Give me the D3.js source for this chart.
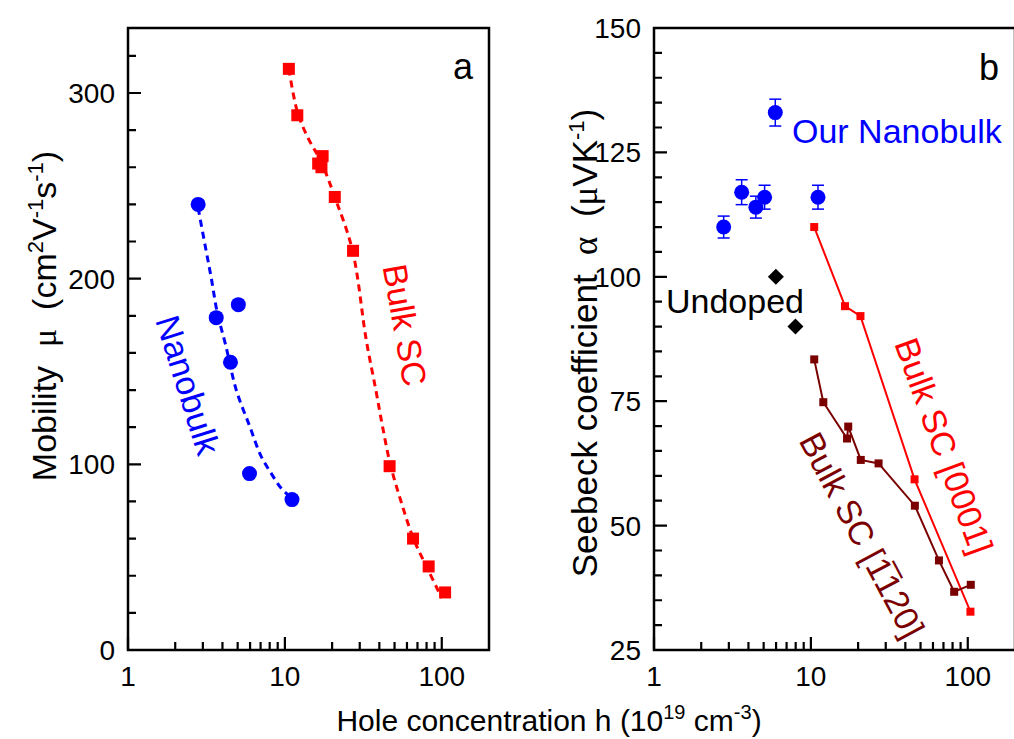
<!DOCTYPE html>
<html>
<head>
<meta charset="utf-8">
<script src="https://cdn.jsdelivr.net/npm/d3@7"></script>
<style>
  body { margin: 0; background: #fff; }
  text { font-family: "Liberation Sans", Arial, sans-serif; }
</style>
</head>
<body>
<div id="plot"></div>
<script>
// ---- panel a data: mobility vs hole concentration ----
var nanoH  = [2.8, 3.65, 5.05, 4.5, 5.95, 11.1];
var nanoMu = [240, 179, 186, 155, 95, 81];
var nanoFitH  = [2.8, 3.1, 3.4, 3.7, 4.2, 4.9, 6.0, 7.0, 8.2, 9.5, 11.0];
var nanoFitMu = [238, 218, 200, 182, 164, 140, 120, 105, 95, 87, 82];

var bulkH  = [10.6, 12.0, 17.4, 16.3, 17.1, 20.8, 27.2, 46.5, 65.6, 82.5, 105];
var bulkMu = [313, 288, 266, 262, 260, 244, 215, 99, 60, 45, 31];
var bulkFitH  = [10.6, 12, 14, 17, 21, 27, 33, 38, 42, 47, 55, 66, 82, 100];
var bulkFitMu = [313, 290, 276, 263, 243, 215, 167, 140, 120, 100, 80, 60, 43, 28];

// ---- panel b data: Seebeck coefficient vs hole concentration ----
var ourH     = [2.78, 3.62, 4.46, 5.07, 5.93, 11.1];
var ourS     = [110, 117, 114, 116, 133, 116];
var ourErr   = [2.2, 2.5, 2.2, 2.4, 2.7, 2.4];

var undopedH = [5.98, 7.97];
var undopedS = [100, 90];

var sc0001H = [10.5, 16.5, 20.7, 45.8, 104];
var sc0001S = [110, 94.1, 92.1, 59.3, 32.7];

var sc1120H = [10.5, 12.0, 17.0, 17.3, 20.8, 27.0, 46.0, 65.5, 81.9, 104.5];
var sc1120S = [83.4, 74.8, 67.5, 69.9, 63.2, 62.5, 54.0, 43.0, 36.7, 38.1];

// ---- axis ticks ----
var xMajor = [1, 10, 100];
var xMinor = [2, 3, 4, 5, 6, 7, 8, 9, 20, 30, 40, 50, 60, 70, 80, 90];
var yMajorA = [0, 100, 200, 300];
var yMinorA = [20, 40, 60, 80, 120, 140, 160, 180, 220, 240, 260, 280, 320];
var yMajorB = [25, 50, 75, 100, 125, 150];
var yMinorB = [30, 35, 40, 45, 55, 60, 65, 70, 80, 85, 90, 95, 105, 110, 115, 120, 130, 135, 140, 145];

var W = 1014, H = 739;
var BLUE = "#0000ff", RED = "#ff0000", DRED = "#7a0000";
var SP = "\u00a0";

var svg = d3.select("#plot")
  .append("svg")
    .attr("width", W)
    .attr("height", H);

svg.append("rect").attr("width", W).attr("height", H).attr("fill", "#fff");

var plotTop = 28, plotBottom = 650;

var xA = d3.scaleLog().domain([1, 200]).range([128, 489]);
var yA = d3.scaleLinear().domain([0, 335]).range([plotBottom, plotTop]);
var xB = d3.scaleLog().domain([1, 200]).range([654, 1015]);
var yB = d3.scaleLinear().domain([25, 150]).range([plotBottom, plotTop]);

function drawAxes(x, y, yMajor, yMinor) {
  var x0 = x.range()[0], x1 = x.range()[1];
  var g = svg.append("g");

  // frame
  g.append("rect")
    .attr("x", x0).attr("y", plotTop)
    .attr("width", x1 - x0).attr("height", plotBottom - plotTop)
    .attr("fill", "none").attr("stroke", "#000").attr("stroke-width", 2.5);

  // inward ticks on bottom and left, one path for all of them
  var p = d3.path();
  xMajor.forEach(function(v) { p.moveTo(x(v), plotBottom); p.lineTo(x(v), plotBottom - 13); });
  xMinor.forEach(function(v) { p.moveTo(x(v), plotBottom); p.lineTo(x(v), plotBottom - 8); });
  yMajor.forEach(function(v) { p.moveTo(x0, y(v)); p.lineTo(x0 + 13, y(v)); });
  yMinor.forEach(function(v) { p.moveTo(x0, y(v)); p.lineTo(x0 + 8, y(v)); });
  g.append("path")
    .attr("d", p.toString())
    .attr("fill", "none")
    .attr("stroke", "#000")
    .attr("stroke-width", 2.2);

  // tick labels
  g.selectAll(null).data(xMajor).enter().append("text")
    .attr("x", function(d) { return x(d); })
    .attr("y", plotBottom + 36)
    .attr("text-anchor", "middle")
    .attr("font-size", "28px")
    .text(function(d) { return d; });
  g.selectAll(null).data(yMajor).enter().append("text")
    .attr("x", x0 - 13)
    .attr("y", function(d) { return y(d); })
    .attr("dy", "0.36em")
    .attr("text-anchor", "end")
    .attr("font-size", "28px")
    .text(function(d) { return d; });
}

drawAxes(xA, yA, yMajorA, yMinorA);
drawAxes(xB, yB, yMajorB, yMinorB);

// ---------- panel a ----------
var lineA = d3.line().curve(d3.curveCatmullRom)
  .x(function(d) { return xA(d[0]); })
  .y(function(d) { return yA(d[1]); });

svg.append("path")
  .attr("d", lineA(d3.zip(nanoFitH, nanoFitMu)))
  .attr("fill", "none").attr("stroke", BLUE).attr("stroke-width", 3)
  .attr("stroke-dasharray", "7,5");

svg.append("path")
  .attr("d", lineA(d3.zip(bulkFitH, bulkFitMu)))
  .attr("fill", "none").attr("stroke", RED).attr("stroke-width", 3)
  .attr("stroke-dasharray", "7,5");

svg.selectAll(".nano").data(d3.zip(nanoH, nanoMu)).enter()
  .append("circle")
    .attr("cx", function(d) { return xA(d[0]); })
    .attr("cy", function(d) { return yA(d[1]); })
    .attr("r", 7.5).attr("fill", BLUE);

svg.selectAll(".bulk").data(d3.zip(bulkH, bulkMu)).enter()
  .append("rect")
    .attr("x", function(d) { return xA(d[0]) - 6; })
    .attr("y", function(d) { return yA(d[1]) - 6; })
    .attr("width", 12).attr("height", 12).attr("fill", RED);

// ---------- panel b ----------
var lineB = d3.line()
  .x(function(d) { return xB(d[0]); })
  .y(function(d) { return yB(d[1]); });

svg.append("path")
  .attr("d", lineB(d3.zip(sc0001H, sc0001S)))
  .attr("fill", "none").attr("stroke", RED).attr("stroke-width", 2);
svg.append("path")
  .attr("d", lineB(d3.zip(sc1120H, sc1120S)))
  .attr("fill", "none").attr("stroke", DRED).attr("stroke-width", 2);

svg.selectAll(".s0001").data(d3.zip(sc0001H, sc0001S)).enter()
  .append("rect")
    .attr("x", function(d) { return xB(d[0]) - 4; })
    .attr("y", function(d) { return yB(d[1]) - 4; })
    .attr("width", 8).attr("height", 8).attr("fill", RED);
svg.selectAll(".s1120").data(d3.zip(sc1120H, sc1120S)).enter()
  .append("rect")
    .attr("x", function(d) { return xB(d[0]) - 4; })
    .attr("y", function(d) { return yB(d[1]) - 4; })
    .attr("width", 8).attr("height", 8).attr("fill", DRED);

var ours = d3.zip(ourH, ourS, ourErr);
var eb = svg.selectAll(".eb").data(ours).enter().append("g")
  .attr("stroke", BLUE).attr("stroke-width", 1.5);
eb.append("line")
  .attr("x1", function(d) { return xB(d[0]); }).attr("x2", function(d) { return xB(d[0]); })
  .attr("y1", function(d) { return yB(d[1] + d[2]); }).attr("y2", function(d) { return yB(d[1] - d[2]); });
eb.append("line")
  .attr("x1", function(d) { return xB(d[0]) - 6; }).attr("x2", function(d) { return xB(d[0]) + 6; })
  .attr("y1", function(d) { return yB(d[1] + d[2]); }).attr("y2", function(d) { return yB(d[1] + d[2]); });
eb.append("line")
  .attr("x1", function(d) { return xB(d[0]) - 6; }).attr("x2", function(d) { return xB(d[0]) + 6; })
  .attr("y1", function(d) { return yB(d[1] - d[2]); }).attr("y2", function(d) { return yB(d[1] - d[2]); });
svg.selectAll(".our").data(ours).enter()
  .append("circle")
    .attr("cx", function(d) { return xB(d[0]); })
    .attr("cy", function(d) { return yB(d[1]); })
    .attr("r", 7.5).attr("fill", BLUE);

svg.selectAll(".undoped").data(d3.zip(undopedH, undopedS)).enter()
  .append("path")
    .attr("transform", function(d) { return "translate(" + xB(d[0]) + "," + yB(d[1]) + ")"; })
    .attr("d", "M0,-8L8,0L0,8L-8,0Z")
    .attr("fill", "#000");

// ---------- text ----------
function label(x, y, angle, txt, color) {
  svg.append("text")
    .attr("transform", "translate(" + x + "," + y + ") rotate(" + angle + ")")
    .attr("text-anchor", "middle")
    .attr("dominant-baseline", "central")
    .attr("font-size", "34px")
    .attr("fill", color)
    .text(txt);
}

svg.append("text").attr("x", 463).attr("y", 79).attr("text-anchor", "middle")
  .attr("font-size", "36px").text("a");
svg.append("text").attr("x", 989).attr("y", 80).attr("text-anchor", "middle")
  .attr("font-size", "36px").text("b");

label(188, 385, 72.6, "Nanobulk", BLUE);
label(405, 325, 80, "Bulk SC", RED);
label(944, 446, 70, "Bulk SC [0001]", RED);
label(862, 535, 62, "Bulk SC [1\u0305120]", DRED);

svg.append("text").attr("x", 792).attr("y", 143)
  .attr("font-size", "34px").attr("fill", BLUE).text("Our Nanobulk");
svg.append("text").attr("x", 666).attr("y", 313)
  .attr("font-size", "34px").attr("fill", "#000").text("Undoped");

// y title a
var ta = svg.append("text")
  .attr("transform", "translate(56,316) rotate(-90)")
  .attr("text-anchor", "middle")
  .attr("font-size", "34px");
ta.append("tspan").text("Mobility" + SP + SP);
ta.append("tspan").style("font-family", "'Liberation Serif', serif").text("\u03bc");
ta.append("tspan").text(SP + SP + "(cm");
ta.append("tspan").attr("font-size", "22px").attr("dy", -13).text("2");
ta.append("tspan").attr("dy", 13).text("V");
ta.append("tspan").attr("font-size", "22px").attr("dy", -13).text("-1");
ta.append("tspan").attr("dy", 13).text("s");
ta.append("tspan").attr("font-size", "22px").attr("dy", -13).text("-1");
ta.append("tspan").attr("dy", 13).text(")");

// y title b
var tb = svg.append("text")
  .attr("transform", "translate(597,343) rotate(-90)")
  .attr("text-anchor", "middle")
  .attr("font-size", "35px");
tb.append("tspan").text("Seebeck coefficient" + SP + SP);
tb.append("tspan").style("font-family", "'Liberation Serif', serif").text("\u03b1");
tb.append("tspan").text(SP + SP + "(");
tb.append("tspan").style("font-family", "'Liberation Serif', serif").text("\u03bc");
tb.append("tspan").text("VK");
tb.append("tspan").attr("font-size", "22px").attr("dy", -13).text("-1");
tb.append("tspan").attr("dy", 13).text(")");

// x title
var tx = svg.append("text")
  .attr("x", 549).attr("y", 731)
  .attr("text-anchor", "middle")
  .attr("font-size", "30px");
tx.append("tspan").text("Hole concentration h (10");
tx.append("tspan").attr("font-size", "20px").attr("dy", -12).text("19");
tx.append("tspan").attr("dy", 12).text(" cm");
tx.append("tspan").attr("font-size", "20px").attr("dy", -12).text("-3");
tx.append("tspan").attr("dy", 12).text(")");
</script>
</body>
</html>
